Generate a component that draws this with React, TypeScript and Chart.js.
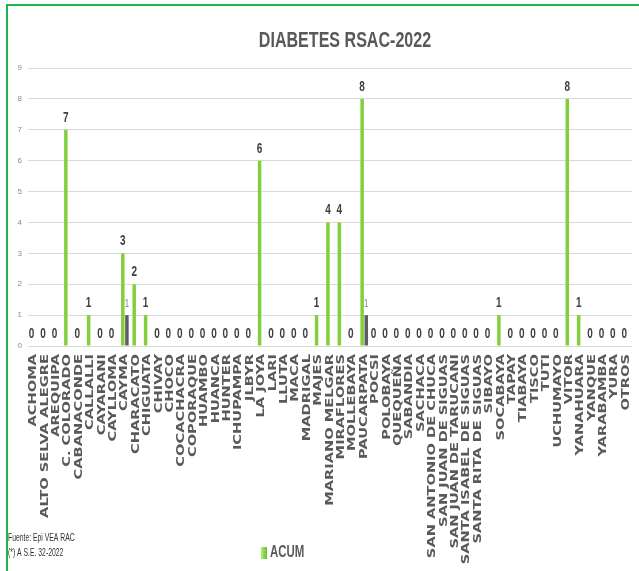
import { useEffect, useRef } from "react";
import { Chart, registerables } from "chart.js";

Chart.register(...registerables);

const categories = [
  "ACHOMA", "ALTO SELVA ALEGRE", "AREQUIPA", "C. COLORADO", "CABANACONDE", "CALLALLI",
  "CAYARANI", "CAYLLOMA", "CAYMA", "CHARACATO", "CHIGUATA", "CHIVAY", "CHOCO",
  "COCACHACRA", "COPORAQUE", "HUAMBO", "HUANCA", "HUNTER", "ICHUPAMPA", "JLBYR",
  "LA JOYA", "LARI", "LLUTA", "MACA", "MADRIGAL", "MAJES", "MARIANO MELGAR",
  "MIRAFLORES", "MOLLEBAYA", "PAUCARPATA", "POCSI", "POLOBAYA", "QUEQUEÑA", "SABANDIA",
  "SACHACA", "SAN ANTONIO DE CHUCA", "SAN JUAN DE SIGUAS", "SAN JUAN DE TARUCANI",
  "SANTA ISABEL DE SIGUAS", "SANTA RITA DE SIGUAS", "SIBAYO", "SOCABAYA", "TAPAY",
  "TIABAYA", "TISCO", "TUTI", "UCHUMAYO", "VITOR", "YANAHUARA", "YANQUE", "YARABAMBA",
  "YURA", "OTROS",
];

const acumValues = [
  0, 0, 0, 7, 0, 1, 0, 0, 3, 2, 1, 0, 0, 0, 0, 0, 0, 0, 0, 0,
  6, 0, 0, 0, 0, 1, 4, 4, 0, 8, 0, 0, 0, 0, 0, 0, 0, 0, 0, 0,
  0, 1, 0, 0, 0, 0, 0, 8, 1, 0, 0, 0, 0,
];

const weekValues = [
  0, 0, 0, 0, 0, 0, 0, 0, 1, 0, 0, 0, 0, 0, 0, 0, 0, 0, 0, 0,
  0, 0, 0, 0, 0, 0, 0, 0, 0, 1, 0, 0, 0, 0, 0, 0, 0, 0, 0, 0,
  0, 0, 0, 0, 0, 0, 0, 0, 0, 0, 0, 0, 0,
];

const yMin = 0;
const yMax = 9;
const yStep = 1;

const TITLE = "DIABETES RSAC-2022";
const LEGEND_LABEL = "ACUM";
const WEEK_LABEL = "S.E. 32";
const SOURCE_LINES = ["Fuente: Epi VEA RAC", "(*) A S.E. 32-2022"];

const SANS = '"Liberation Sans", Arial, sans-serif';
const WIDE = '"DejaVu Sans", Verdana, sans-serif';
const GREEN = "#80d03c";
const GREY = "#5e5e5e";
const SQUEEZE = 0.714;

function narrowText(ctx: CanvasRenderingContext2D, text: string, x: number, y: number, align: CanvasTextAlign, sq = SQUEEZE) {
  ctx.save();
  ctx.translate(x, y);
  ctx.scale(sq, 1);
  ctx.textAlign = align;
  ctx.textBaseline = "middle";
  ctx.fillText(text, 0, 0);
  ctx.restore();
}

export default function App() {
  const ref = useRef<HTMLCanvasElement>(null);

  useEffect(() => {
    const canvas = ref.current!;

    const extras = {
      id: "extras",
      afterDatasetsDraw(chart: any) {
        const ctx: CanvasRenderingContext2D = chart.ctx;
        ctx.save();
        const m0 = chart.getDatasetMeta(0);
        ctx.font = `bold 14px ${SANS}`;
        ctx.fillStyle = "#404040";
        m0.data.forEach((el: any, i: number) => {
          narrowText(ctx, String(acumValues[i]), el.x, el.y - 12, "center");
        });
        const m1 = chart.getDatasetMeta(1);
        ctx.font = `11px ${SANS}`;
        ctx.fillStyle = "#808080";
        m1.data.forEach((el: any, i: number) => {
          if (weekValues[i]) narrowText(ctx, String(weekValues[i]), el.x, el.y - 11, "center");
        });
        ctx.restore();
      },
      afterDraw(chart: any) {
        const ctx: CanvasRenderingContext2D = chart.ctx;
        ctx.save();
        // category labels along the x scale
        const xs = chart.scales.x;
        ctx.font = `bold 10px ${WIDE}`;
        ctx.fillStyle = "#595959";
        categories.forEach((label, i) => {
          const x = xs.getPixelForTick(i);
          ctx.save();
          ctx.translate(x, chart.chartArea.bottom + 8);
          ctx.rotate(-Math.PI / 2);
          ctx.scale(1.46, 1);
          ctx.textAlign = "right";
          ctx.textBaseline = "middle";
          ctx.fillText(label, 0, 0);
          ctx.restore();
        });
        // title
        ctx.font = `bold 22.5px ${SANS}`;
        ctx.fillStyle = "#595959";
        narrowText(ctx, TITLE, 345, 41, "center");
        // legend
        const g = ctx.createLinearGradient(261, 0, 267, 0);
        g.addColorStop(0, "#b5ea7c");
        g.addColorStop(1, "#6cc02a");
        ctx.fillStyle = g;
        ctx.fillRect(261, 547, 6, 12);
        ctx.font = `bold 16px ${SANS}`;
        ctx.fillStyle = "#595959";
        narrowText(ctx, LEGEND_LABEL, 270, 553, "left");
        // source
        ctx.font = `11px ${SANS}`;
        ctx.fillStyle = "#333333";
        narrowText(ctx, SOURCE_LINES[0], 8, 538, "left", 0.62);
        narrowText(ctx, SOURCE_LINES[1], 8, 553, "left", 0.62);
        ctx.restore();
      },
    };

    const chart = new Chart(canvas, {
      type: "bar",
      data: {
        labels: categories,
        datasets: [
          {
            label: LEGEND_LABEL,
            data: acumValues,
            backgroundColor: GREEN,
            borderWidth: 0,
            categoryPercentage: 0.72,
            barPercentage: 0.85,
          },
          {
            label: WEEK_LABEL,
            data: weekValues,
            backgroundColor: GREY,
            borderWidth: 0,
            categoryPercentage: 0.72,
            barPercentage: 0.85,
          },
        ],
      },
      options: {
        responsive: false,
        animation: false,
        devicePixelRatio: 1,
        layout: { padding: { top: 68, right: 7, left: 0, bottom: 0 } },
        plugins: {
          legend: { display: false },
          title: { display: false },
          tooltip: { enabled: false },
        },
        scales: {
          x: {
            grid: { display: false, drawTicks: false },
            border: { display: false },
            ticks: { display: false, autoSkip: false },
            afterFit(scale: any) {
              scale.height = 225;
              scale.paddingLeft = 0;
              scale.paddingRight = 0;
            },
          },
          y: {
            min: yMin,
            max: yMax,
            ticks: {
              stepSize: yStep,
              padding: 6,
              color: "#8c8c8c",
              font: { family: SANS, size: 8 },
            },
            grid: { color: "#d9d9d9", drawTicks: false, lineWidth: 1 },
            border: { display: false },
            afterFit(scale: any) {
              scale.width = 28;
            },
          },
        },
      },
      plugins: [extras],
    } as any);

    return () => chart.destroy();
  }, []);

  return (
    <div style={{ position: "absolute", left: 0, top: 0, width: 639, height: 571, overflow: "hidden", background: "#ffffff" }}>
      <div
        style={{
          position: "absolute",
          left: 6,
          top: 4,
          width: 700,
          height: 700,
          borderTop: "2px solid #1cb44e",
          borderLeft: "2px solid #1cb44e",
        }}
      />
      <canvas ref={ref} width={639} height={571} style={{ position: "absolute", left: 0, top: 0 }} />
    </div>
  );
}
